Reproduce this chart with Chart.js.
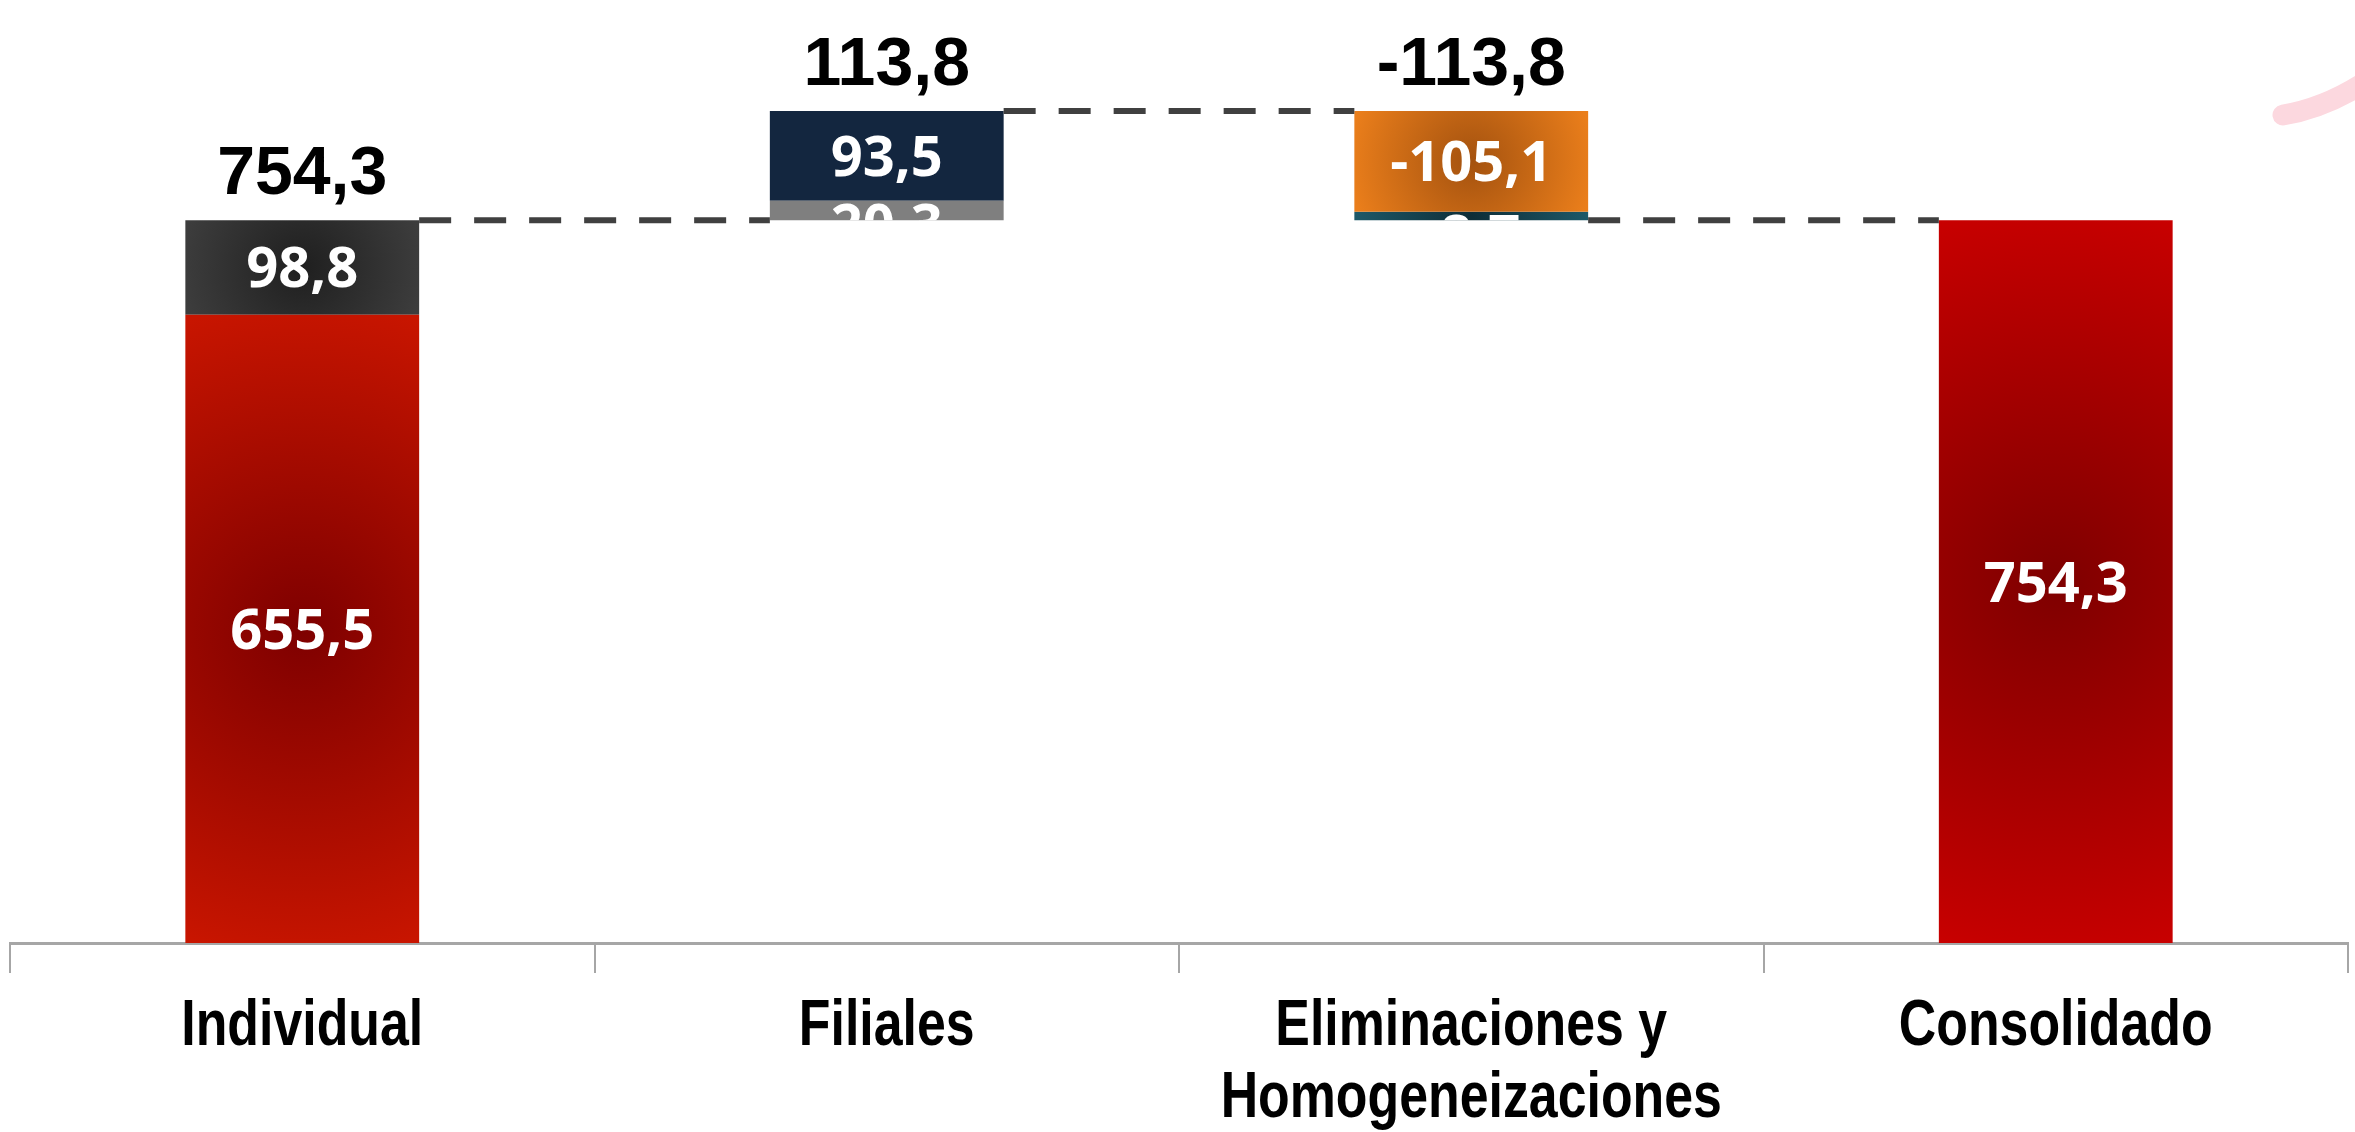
<!DOCTYPE html>
<html>
<head>
<meta charset="utf-8">
<script src="https://cdn.jsdelivr.net/npm/chart.js"></script>
<style>
  html, body { margin: 0; padding: 0; background: #fff; }
  #wrap { width: 2355px; height: 1132px; }
</style>
</head>
<body>
<div id="wrap"><canvas id="bridgeChart"></canvas></div>
<script>
// categories on the x axis
const categories = ['Individual', 'Filiales', ['Eliminaciones y', 'Homogeneizaciones'], 'Consolidado'];
// segment values (Individual / Filiales bottom-up, Eliminaciones top-down)
const individual = [655.5, 98.8];
const filiales = [20.3, 93.5];
const eliminaciones = [-105.1, -8.7];
const consolidado = [754.3];
const yMax = 984;

const round1 = v => Math.round(v * 10) / 10;
const sum = a => round1(a.reduce((s, v) => s + v, 0));
const fmt = v => v.toFixed(1).replace('.', ',');

const indTop = sum(individual);
const filTop = round1(indTop + sum(filiales));
const elimMid = round1(filTop + eliminaciones[0]);
const elimEnd = round1(filTop + sum(eliminaciones));

// radial shading like the original slide, geometry taken from the scales
function shade(inner, outer) {
  return (ctx) => {
    const chart = ctx.chart;
    const raw = ctx.raw;
    if (!Array.isArray(raw) || !chart.chartArea) return outer;
    const xs = chart.scales.x, ys = chart.scales.y;
    const cx = xs.getPixelForValue(ctx.dataIndex);
    const y0 = ys.getPixelForValue(raw[0]), y1 = ys.getPixelForValue(raw[1]);
    const cy = (y0 + y1) / 2;
    const h = Math.abs(y0 - y1);
    const w = xs.width / categories.length * 0.4;
    const r = Math.max(w, h) / 2 * 1.05;
    const g = chart.ctx.createRadialGradient(cx, cy, 0, cx, cy, r);
    g.addColorStop(0, inner);
    g.addColorStop(1, outer);
    return g;
  };
}

function seg(index, range, value, fill) {
  const data = categories.map(() => null);
  data[index] = range;
  return { data, segValue: value, backgroundColor: fill, grouped: false, borderWidth: 0 };
}

const datasets = [
  seg(0, [0, individual[0]], individual[0], shade('#7e0000', '#c81500')),
  seg(0, [individual[0], indTop], individual[1], shade('#1f1f1f', '#3d3d3d')),
  seg(1, [indTop, round1(indTop + filiales[0])], filiales[0], '#7f7f7f'),
  seg(1, [round1(indTop + filiales[0]), filTop], filiales[1], '#13263f'),
  seg(2, [filTop, elimMid], eliminaciones[0], shade('#a4520f', '#ea7e1b')),
  seg(2, [elimMid, elimEnd], eliminaciones[1], shade('#0e2d37', '#1e5b6b')),
  seg(3, [0, consolidado[0]], consolidado[0], shade('#7e0000', '#c80000'))
];

// top totals per category
const totals = [indTop, sum(filiales), sum(eliminaciones)];
const totalLevels = [indTop, filTop, filTop];
// connector levels between category i and i+1
const links = [indTop, filTop, elimEnd];

function barAt(chart, index) {
  for (let d = 0; d < chart.data.datasets.length; d++) {
    if (chart.data.datasets[d].data[index] !== null) return chart.getDatasetMeta(d).data[index];
  }
  return null;
}

const bridgePlugin = {
  id: 'bridge',
  afterDatasetsDraw(chart) {
    const c = chart.ctx;
    const ys = chart.scales.y;
    // dashed connectors
    c.save();
    c.strokeStyle = '#404040';
    c.lineWidth = 6;
    c.setLineDash([32, 23]);
    links.forEach((lvl, i) => {
      const a = barAt(chart, i), b = barAt(chart, i + 1);
      const y = ys.getPixelForValue(lvl);
      c.beginPath();
      c.moveTo(a.x + a.width / 2, y);
      c.lineTo(b.x - b.width / 2, y);
      c.stroke();
    });
    c.restore();

    // white labels inside segments
    const size = 56, digitH = size * 0.714;
    chart.data.datasets.forEach((ds, d) => {
      const meta = chart.getDatasetMeta(d);
      ds.data.forEach((v, i) => {
        if (v === null) return;
        const el = meta.data[i];
        const top = Math.min(el.y, el.base), h = Math.abs(el.base - el.y);
        c.save();
        c.beginPath();
        c.rect(el.x - el.width / 2, top, el.width, h);
        c.clip();
        c.fillStyle = '#fff';
        c.font = `bold ${size}px 'Open Sans', 'Noto Sans', sans-serif`;
        c.textAlign = 'center';
        c.textBaseline = 'alphabetic';
        const base = h > digitH + 8 ? top + h / 2 + digitH / 2 : top + 3 + digitH;
        c.fillText(fmt(ds.segValue), el.x, base);
        c.restore();
      });
    });

    // black totals above
    c.save();
    c.fillStyle = '#000';
    c.font = "bold 68px 'Liberation Sans', Arial, sans-serif";
    c.textAlign = 'center';
    c.textBaseline = 'alphabetic';
    totals.forEach((t, i) => {
      const el = barAt(chart, i);
      c.fillText(fmt(t), el.x, ys.getPixelForValue(totalLevels[i]) - 26);
    });
    c.restore();
  },
  afterDraw(chart) {
    const c = chart.ctx, W = chart.width;
    const xs = chart.scales.x;
    // category labels in a condensed bold face, placed on the axis ticks
    c.save();
    c.fillStyle = '#000';
    c.font = "bold 64px 'Liberation Sans', Arial, sans-serif";
    c.textAlign = 'center';
    c.textBaseline = 'alphabetic';
    categories.forEach((lab, i) => {
      const lines = Array.isArray(lab) ? lab : [lab];
      const x = xs.getPixelForTick(i);
      lines.forEach((line, k) => {
        c.save();
        c.translate(x, xs.top + 102 + k * 72);
        c.scale(0.81, 1);
        c.fillText(line, 0, 0);
        c.restore();
      });
    });
    c.restore();

    // faint pink swoosh from the slide background
    c.save();
    c.strokeStyle = '#fcd8df';
    c.lineWidth = 21;
    c.lineCap = 'round';
    c.beginPath();
    c.moveTo(W - 72, 115);
    c.quadraticCurveTo(W - 30, 108, W + 10, 82);
    c.stroke();
    c.restore();
  }
};

new Chart(document.getElementById('bridgeChart'), {
  type: 'bar',
  data: { labels: categories, datasets },
  options: {
    responsive: true,
    maintainAspectRatio: false,
    animation: false,
    categoryPercentage: 1,
    barPercentage: 0.4,
    layout: { padding: { left: 10, right: 7, top: 0, bottom: 159 } },
    plugins: { legend: { display: false }, tooltip: { enabled: false } },
    scales: {
      x: {
        grid: { offset: true, drawOnChartArea: false, drawTicks: true, tickLength: 30, color: '#a6a6a6', lineWidth: 2 },
        border: { display: true, color: '#a6a6a6', width: 3 },
        ticks: { display: false, autoSkip: false }
      },
      y: { display: false, min: 0, max: yMax }
    }
  },
  plugins: [bridgePlugin]
});
</script>
</body>
</html>
